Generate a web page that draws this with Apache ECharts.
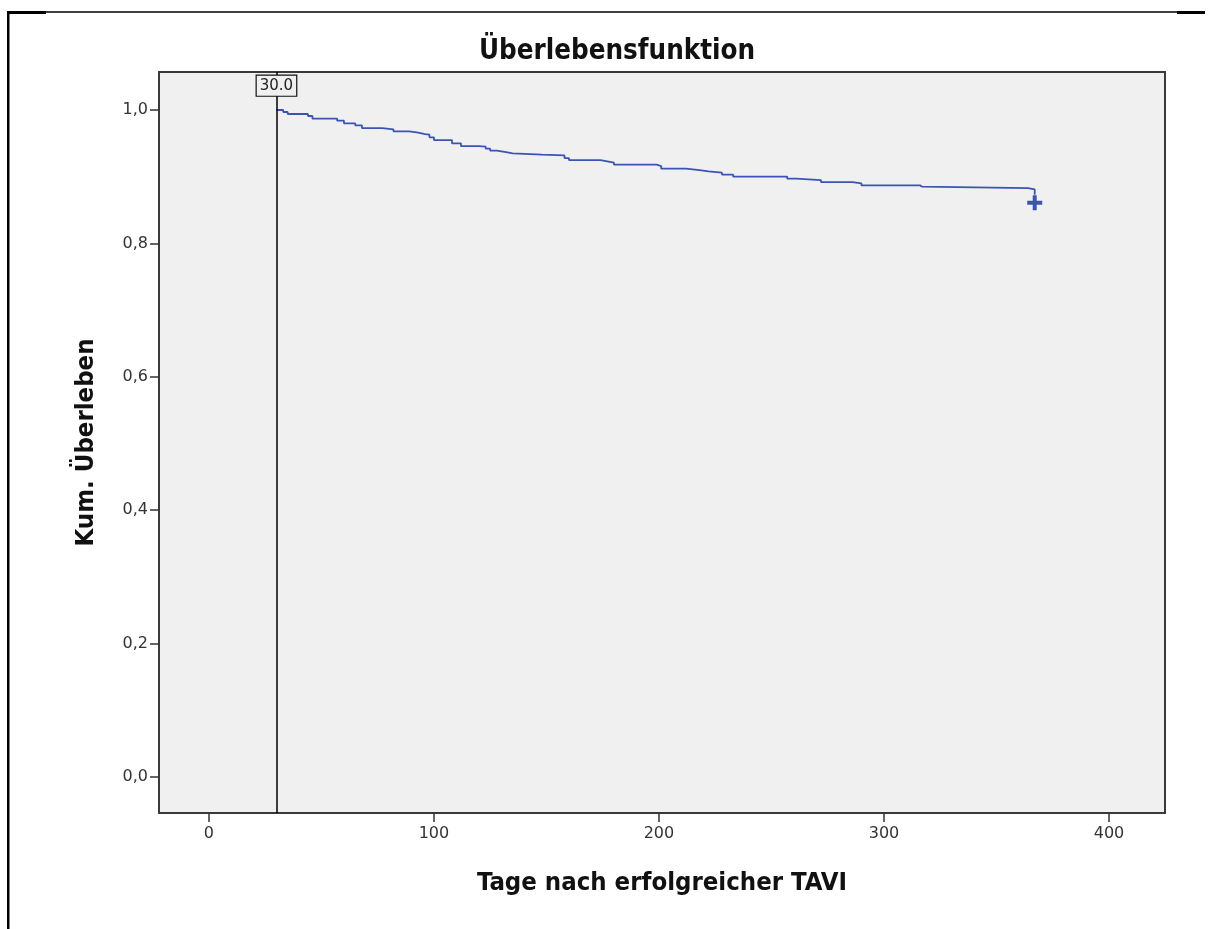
<!DOCTYPE html>
<html>
<head>
<meta charset="utf-8">
<script src="https://cdn.jsdelivr.net/npm/echarts@6/dist/echarts.min.js"></script>
<style>
html,body{margin:0;padding:0;background:#fff;}
#chart{width:1212px;height:929px;}
</style>
</head>
<body>
<div id="chart"></div>
<script>
// Kaplan-Meier step points (days after TAVI, cumulative survival after the step)
const timeDays = [30,33,35,44,46,57,60,65,68,77,82,89,93,96,98,100,108,112,120,123,125,128,132,135,148,158,160,174,177,180,199,201,212,218,222,228,233,257,261,272,286,290,316,317,364,367];
const survival = [1.000,0.997,0.994,0.991,0.987,0.984,0.980,0.977,0.973,0.971,0.968,0.966,0.964,0.963,0.959,0.955,0.950,0.946,0.945,0.942,0.939,0.937,0.935,0.933,0.932,0.928,0.925,0.923,0.921,0.918,0.916,0.912,0.910,0.908,0.906,0.903,0.900,0.897,0.895,0.892,0.890,0.887,0.885,0.883,0.881,0.873];
const censorTimes = [367];
const censorValues = [0.861];
const xTicks = [0, 100, 200, 300, 400];
const yTicks = [0, 0.2, 0.4, 0.6, 0.8, 1.0];
const refLineDay = 30;
const refLineLabel = '30.0';

const titleText = 'Überlebensfunktion';
const xName = 'Tage nach erfolgreicher TAVI';
const yName = 'Kum. Überleben';

const X_MIN = -22.2, X_MAX = 424.9;
const Y_MIN = -0.054, Y_MAX = 1.057;

const curve = timeDays.map((t, i) => [t, survival[i]]);
const censors = censorTimes.map((t, i) => [t, censorValues[i]]);

const lineColor = '#3a55b1';
const condensed = '"DejaVu Sans Condensed", "DejaVu Sans", sans-serif';

const chart = echarts.init(document.getElementById('chart'), null, {renderer: 'canvas'});
chart.setOption({
  animation: false,
  backgroundColor: '#ffffff',
  title: {
    text: titleText,
    left: 612, top: 33, textAlign: 'center',
    textStyle: {fontFamily: condensed, fontWeight: 'bold', fontSize: 27.5, color: '#111'}
  },
  grid: {
    left: 159, top: 72, width: 1006, height: 741,
    show: true, backgroundColor: '#f0f0f0', borderColor: '#3a3a3a', borderWidth: 2,
    containLabel: false
  },
  xAxis: {
    type: 'value', min: X_MIN, max: X_MAX,
    name: xName, nameLocation: 'middle', nameGap: 57,
    nameTextStyle: {fontFamily: condensed, fontWeight: 'bold', fontSize: 25.5, color: '#111'},
    axisLine: {show: false, onZero: false},
    splitLine: {show: false},
    axisTick: {show: true, inside: false, length: 9, customValues: xTicks, lineStyle: {color: '#333', width: 1.5}},
    axisLabel: {customValues: xTicks, margin: 13, fontFamily: '"DejaVu Sans", sans-serif', fontSize: 16, color: '#333'}
  },
  yAxis: {
    type: 'value', min: Y_MIN, max: Y_MAX,
    name: yName, nameLocation: 'middle', nameGap: 60, nameRotate: 90,
    nameTextStyle: {fontFamily: condensed, fontWeight: 'bold', fontSize: 25.5, color: '#111'},
    axisLine: {show: false, onZero: false},
    splitLine: {show: false},
    axisTick: {show: true, inside: false, length: 9, customValues: yTicks, lineStyle: {color: '#333', width: 1.5}},
    axisLabel: {customValues: yTicks, margin: 11, fontFamily: '"DejaVu Sans", sans-serif', fontSize: 16, color: '#333',
      formatter: v => v.toFixed(1).replace('.', ',')}
  },
  series: [
    {
      type: 'line', data: curve, step: 'end', showSymbol: false, symbol: 'none',
      lineStyle: {color: lineColor, width: 1.8},
      z: 3,
      markLine: {
        silent: true, symbol: 'none', animation: false,
        lineStyle: {color: '#000', width: 1.5, type: 'solid'},
        label: {show: false},
        data: [{xAxis: refLineDay}]
      },
      markPoint: {
        silent: true, symbol: 'rect', symbolSize: 0,
        label: {
          show: true, position: 'inside', formatter: refLineLabel,
          fontFamily: '"DejaVu Sans", sans-serif', fontSize: 15, color: '#222',
          backgroundColor: '#f0f0f0', borderColor: '#111', borderWidth: 1.2, padding: [3, 3, 2, 3]
        },
        data: [{coord: [refLineDay, 1.0365]}]
      }
    },
    {
      type: 'scatter', data: censors,
      symbol: 'path://M5.5,0 H9.5 V5.5 H15 V9.5 H9.5 V15 H5.5 V9.5 H0 V5.5 H5.5 Z',
      symbolSize: 15, itemStyle: {color: lineColor, opacity: 1}, z: 4
    }
  ],
  graphic: [
    {type: 'line', shape: {x1: 8, y1: 12, x2: 1205, y2: 12}, style: {stroke: '#000', lineWidth: 1.5}, silent: true},
    {type: 'rect', shape: {x: 7, y: 11, width: 39, height: 3}, style: {fill: '#000'}, silent: true},
    {type: 'rect', shape: {x: 1177, y: 11, width: 28, height: 3}, style: {fill: '#000'}, silent: true},
    {type: 'rect', shape: {x: 7, y: 11, width: 2.5, height: 918}, style: {fill: '#000'}, silent: true}
  ]
});
</script>
</body>
</html>
